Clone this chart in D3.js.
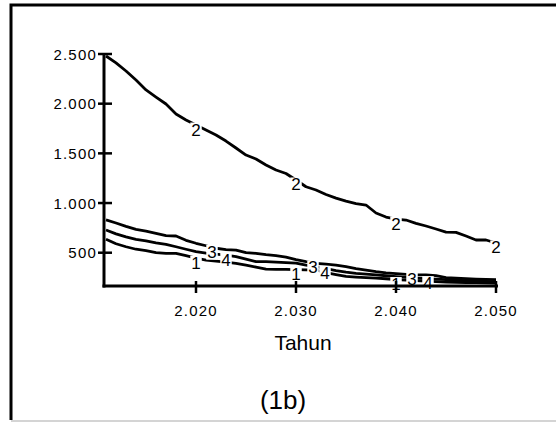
<!DOCTYPE html>
<html>
<head>
<meta charset="utf-8">
<script src="https://cdn.jsdelivr.net/npm/d3@7"></script>
<style>
  body { margin: 0; background: #fff; }
  svg { display: block; font-family: "Liberation Sans", Arial, sans-serif; }
  text { fill: #000; }
</style>
</head>
<body>
<div id="chart"></div>
<script>
// years of the simulation run
var years = d3.range(2011, 2051);

// series values (one value per year)
var seri1 = [635, 590, 560, 535, 520, 500, 494, 494, 470, 445,
             426, 415, 405, 393, 375, 355, 335, 333, 333, 330,
             328, 326, 300, 280, 262, 255, 250, 245, 238, 230,
             225, 220, 215, 210, 205, 202, 200, 198, 196, 195];
var seri2 = [2480, 2410, 2329, 2238, 2138, 2067, 1997, 1896, 1836, 1785,
             1735, 1685, 1624, 1554, 1483, 1443, 1383, 1332, 1297, 1232,
             1164, 1131, 1086, 1050, 1020, 995, 980, 900, 859, 839,
             829, 796, 769, 739, 708, 705, 668, 628, 628, 598];
var seri3 = [830, 799, 765, 735, 718, 695, 672, 668, 625, 595,
             570, 545, 532, 527, 500, 494, 480, 470, 455, 430,
             410, 393, 385, 376, 360, 340, 325, 309, 298, 290,
             282, 276, 276, 270, 250, 245, 240, 235, 232, 230];
var seri4 = [728, 690, 660, 635, 620, 600, 585, 560, 535, 510,
             495, 485, 475, 460, 435, 410, 410, 405, 400, 395,
             375, 359, 340, 320, 305, 293, 285, 276, 268, 260,
             252, 245, 240, 235, 230, 225, 220, 215, 212, 210];

var seriesNames = ["1", "2", "3", "4"];
var seriesValues = [seri1, seri2, seri3, seri4];
// where the number labels sit along each line (years)
var labelYears = [
  [2020, 2030, 2040],
  [2020, 2030, 2040, 2050],
  [2021.6, 2031.7, 2041.6],
  [2023, 2032.9, 2043.2]
];

var yTicks = [500, 1000, 1500, 2000, 2500];
var xTicks = [2020, 2030, 2040, 2050];

var width = 556, height = 423;

var svg = d3.select("#chart").append("svg")
  .attr("width", width)
  .attr("height", height);

// outer frame (left + top lines, grey line at bottom)
svg.append("line")
  .attr("x1", 11).attr("y1", 421).attr("x2", 556).attr("y2", 421)
  .attr("stroke", "#d4d4d4").attr("stroke-width", 2);
svg.append("path")
  .attr("d", "M11,420V5H556")
  .attr("fill", "none").attr("stroke", "#000").attr("stroke-width", 3);

var x = d3.scaleLinear().domain([2011, 2050]).range([106, 496]);
var y = d3.scaleLinear().domain([165, 2500]).range([286, 54]);

function fmt(v) {
  // Indonesian style thousands separator
  return d3.format(",")(v).replace(/,/g, ".");
}

// lines
var line = d3.line()
  .x(function(d) { return x(d[0]); })
  .y(function(d) { return y(d[1]); });

for (var s = 0; s < seriesValues.length; s++) {
  var pts = years.map(function(yr, i) { return [yr, seriesValues[s][i]]; });
  svg.append("path")
    .datum(pts)
    .attr("d", line)
    .attr("fill", "none")
    .attr("stroke", "#000")
    .attr("stroke-width", 2.8)
    .attr("stroke-linejoin", "round");
}

// number labels on the lines
function valueAt(vals, yr) {
  var i = Math.floor(yr - 2011);
  if (i >= vals.length - 1) return vals[vals.length - 1];
  var t = yr - 2011 - i;
  return vals[i] + (vals[i + 1] - vals[i]) * t;
}

for (var s = 0; s < seriesValues.length; s++) {
  labelYears[s].forEach(function(yr) {
    var lx = x(yr), ly = y(valueAt(seriesValues[s], yr)) + 5;
    var g = svg.append("g");
    var t = g.append("text")
      .attr("x", lx).attr("y", ly)
      .attr("text-anchor", "middle")
      .attr("dominant-baseline", "central")
      .attr("font-size", 17)
      .text(seriesNames[s]);
    var bb = t.node().getBBox();
    g.insert("rect", "text")
      .attr("x", bb.x - 1).attr("y", bb.y + 2)
      .attr("width", bb.width + 2).attr("height", bb.height - 4)
      .attr("fill", "#fff");
  });
}

// y axis
var yAxis = svg.append("g").attr("transform", "translate(104,0)");
yAxis.append("line")
  .attr("x1", 0).attr("x2", 0).attr("y1", y(2500) - 1).attr("y2", 287.5)
  .attr("stroke", "#000").attr("stroke-width", 3);
yAxis.selectAll(".tk").data(yTicks).enter().append("line")
  .attr("x1", -6).attr("x2", 8)
  .attr("y1", function(d) { return y(d); })
  .attr("y2", function(d) { return y(d); })
  .attr("stroke", "#000").attr("stroke-width", 2.5);
yAxis.selectAll(".lb").data(yTicks).enter().append("text")
  .attr("x", -7)
  .attr("y", function(d) { return y(d); })
  .attr("text-anchor", "end")
  .attr("dominant-baseline", "central")
  .attr("font-size", 15)
  .attr("letter-spacing", 1.2)
  .text(fmt);

// x axis
var xAxis = svg.append("g").attr("transform", "translate(0,286)");
xAxis.append("line")
  .attr("x1", 102.5).attr("x2", x(2050) + 2).attr("y1", 0).attr("y2", 0)
  .attr("stroke", "#000").attr("stroke-width", 3);
xAxis.selectAll(".tk").data(xTicks).enter().append("line")
  .attr("x1", function(d) { return x(d); })
  .attr("x2", function(d) { return x(d); })
  .attr("y1", -5).attr("y2", 7)
  .attr("stroke", "#000").attr("stroke-width", 2.5);
xAxis.selectAll(".lb").data(xTicks).enter().append("text")
  .attr("x", function(d) { return x(d); })
  .attr("y", 30)
  .attr("text-anchor", "middle")
  .attr("font-size", 15)
  .attr("letter-spacing", 1.2)
  .text(fmt);

svg.append("text")
  .attr("x", 303).attr("y", 350)
  .attr("text-anchor", "middle")
  .attr("font-size", 21)
  .text("Tahun");

svg.append("text")
  .attr("x", 283).attr("y", 409)
  .attr("text-anchor", "middle")
  .attr("font-size", 26)
  .text("(1b)");
</script>
</body>
</html>
